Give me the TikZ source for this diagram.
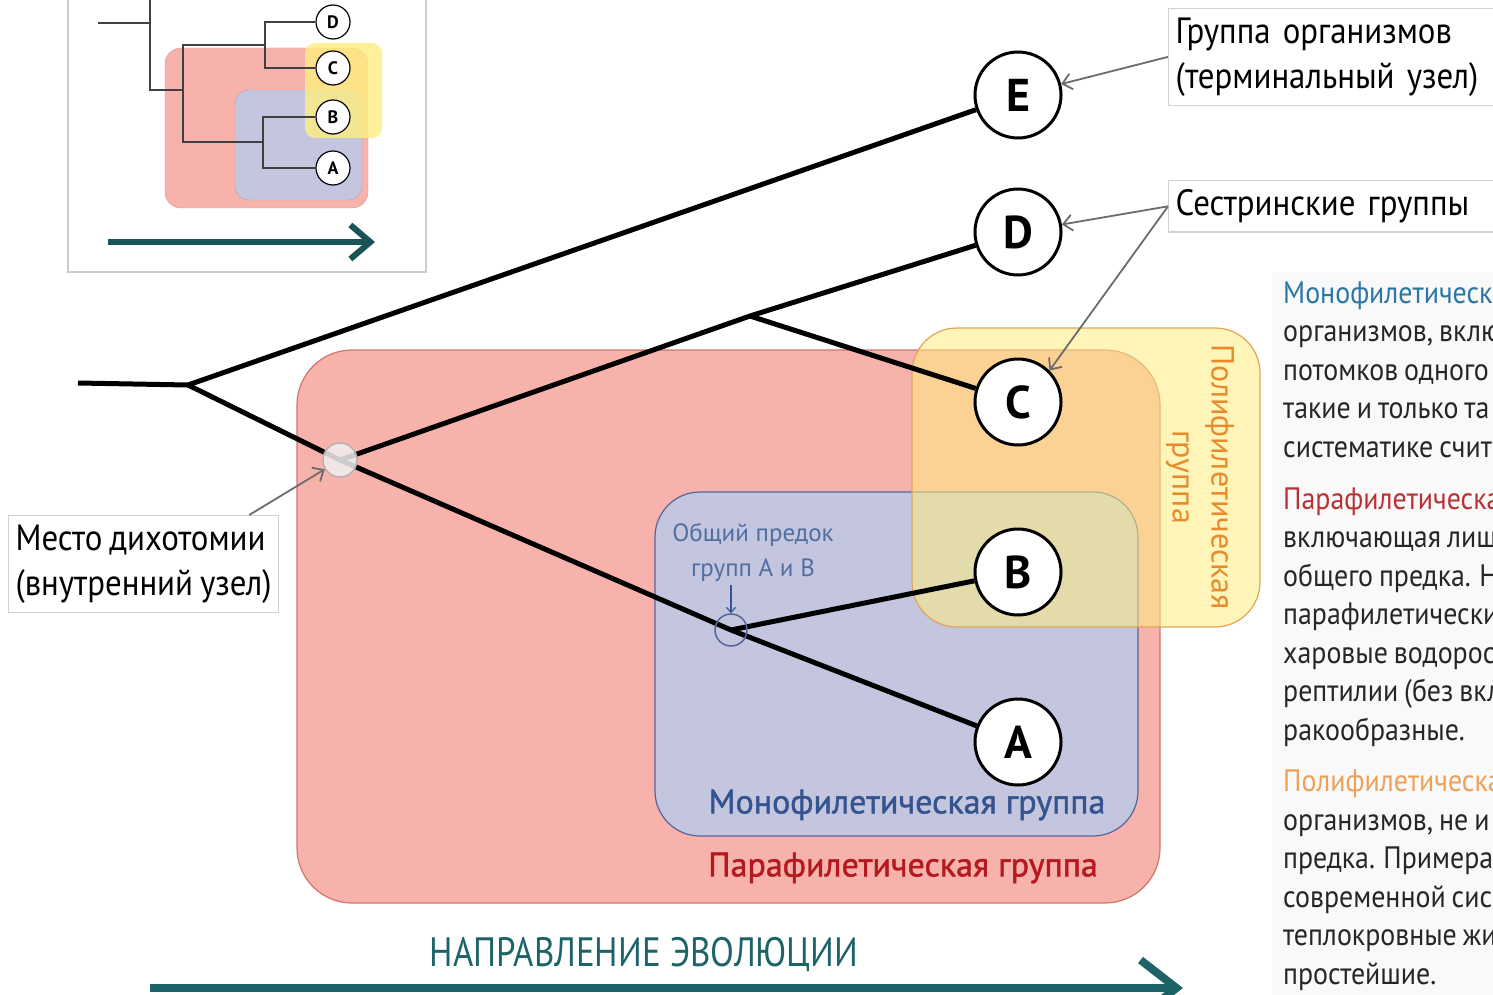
\documentclass[tikz,border=0pt]{standalone}
\usepackage{fontspec}
\setmainfont{PT Sans}
\newfontfamily\narrowfont{PT Sans}[FakeStretch=0.9, WordSpace=0.8]
\newfontfamily\condfont{PT Sans}[FakeStretch=0.85]
\newfontfamily\semifont{PT Sans}[FakeBold=1.3]
\usetikzlibrary{arrows.meta}

\definecolor{paraFill}{HTML}{F7B2AB}
\definecolor{paraLine}{HTML}{D0756C}
\definecolor{monoFill}{HTML}{C3C6DE}
\definecolor{monoLine}{HTML}{56669C}
\definecolor{polyFill}{HTML}{FFEE80}
\definecolor{polyLine}{HTML}{E2A45A}
\definecolor{evoTeal}{HTML}{1D6468}
\definecolor{monoText}{HTML}{34548F}
\definecolor{paraText}{HTML}{B3191E}
\definecolor{polyText}{HTML}{E8892C}

\tikzset{
  leaf/.style={circle, draw, line width=3pt, fill=white, minimum size=86pt, inner sep=0pt, font=\bfseries\fontsize{46}{46}\selectfont},
  branch/.style={line width=5pt},
  callout/.style={draw=gray!35, line width=1.2pt, fill=white, align=left, inner xsep=7pt, inner ysep=9pt, font=\narrowfont\fontsize{36.5}{45}\selectfont},
  pointer/.style={draw=gray!85!black, line width=1.8pt, -{Straight Barb[length=9pt,width=16pt]}},
  ileaf/.style={circle, draw, line width=1.2pt, fill=white, minimum size=34pt, inner sep=0pt, font=\bfseries\fontsize{18}{18}\selectfont},
  ibranch/.style={line width=1.4pt, draw=black!75},
  desc/.style={anchor=base west, align=left, text=black!85, inner sep=0pt, font=\narrowfont\fontsize{31}{38.5}\selectfont},
  grouplabel/.style={font=\semifont\fontsize{34}{34}\selectfont},
}

\begin{document}
\begin{tikzpicture}[x=1pt, y=-1pt]
  \useasboundingbox (0,0) rectangle (1493,995);
  \clip (0,0) rectangle (1493,995);
  \fill[white] (0,0) rectangle (1493,995);
  \fill[gray!5] (1272,272) rectangle (1493,995);

  % small key tree
  \draw[gray!40, line width=1.5pt, fill=white] (68,-20) rectangle (426,272);
  \filldraw[fill=paraFill, draw=paraFill!85!black, rounded corners=16pt] (165,48) rectangle (368,208);
  \filldraw[fill=monoFill, draw=monoFill!85!black, rounded corners=14pt] (235,90) rectangle (362,200);
  \fill[polyFill, opacity=0.8, rounded corners=10pt] (305,43) rectangle (382,138);
  \node[ileaf] (iE) at (333,-26) {E};
  \node[ileaf] (iD) at (333,22) {D};
  \node[ileaf] (iC) at (333,68) {C};
  \node[ileaf] (iB) at (333,117) {B};
  \node[ileaf] (iA) at (333,168) {A};
  \draw[ibranch] (98,23) -- (150,23);
  \draw[ibranch] (iE) -| (150,90) -- (183,90);
  \draw[ibranch] (iD.west) -| (265,68) -- (iC.west);
  \draw[ibranch] (iB.west) -| (263,168) -- (iA.west);
  \draw[ibranch] (265,45) -| (183,142) -- (263,142);
  \draw[evoTeal!85!black, line width=6pt, -{Straight Barb[length=20pt,width=34pt]}] (108,242) -- (375,242);

  % groups
  \filldraw[fill=paraFill, draw=paraLine, line width=1.2pt, rounded corners=55pt] (297,350) rectangle (1160,903);
  \filldraw[fill=monoFill, draw=monoLine, line width=1.2pt, rounded corners=45pt] (655,492) rectangle (1138,836);
  \filldraw[fill=polyFill, fill opacity=0.55, draw=polyLine, line width=1.2pt, rounded corners=45pt] (912,328) rectangle (1260,627);

  % tree
  \node[leaf] (E) at (1018,95) {E};
  \node[leaf] (D) at (1018,232) {D};
  \node[leaf] (C) at (1018,402) {C};
  \node[leaf] (B) at (1018,572) {B};
  \node[leaf] (A) at (1018,742) {A};
  \coordinate (start) at (78,383);
  \coordinate (root) at (188,385);
  \coordinate (dichpt) at (340,460);
  \coordinate (ancpt) at (731,630);
  \coordinate (cd) at (750,316);
  \draw[branch] (start) -- (root) -- (E);
  \draw[branch] (root) -- (dichpt) -- (ancpt) -- (A);
  \draw[branch] (dichpt) -- (cd) -- (D);
  \draw[branch] (cd) -- (C);
  \draw[branch] (ancpt) -- (B);
  \node[circle, draw=gray!60, fill=gray!12, fill opacity=0.85, line width=1.5pt, minimum size=34pt, inner sep=0pt] (dich) at (dichpt) {};
  \node[circle, draw=monoLine, line width=1.5pt, minimum size=32pt, inner sep=0pt] (anc) at (ancpt) {};

  % labels
  \node[grouplabel, text=monoText] (lblMono) at (907,805) {Монофилетическая группа};
  \node[grouplabel, text=paraText] (lblPara) at (903,868) {Парафилетическая группа};
  \node[text=polyText, rotate=-90, align=center, font=\fontsize{32}{39}\selectfont] (lblPoly) at (1200,477) {Полифилетическая\\группа};
  \node[text=monoText!85, align=center, font=\fontsize{25}{35}\selectfont] (lblAnc) at (753,552) {Общий предок\\групп А и В};
  \draw[monoText, line width=1.2pt, -{Straight Barb[length=5pt,width=9pt]}] (anc.north |- lblAnc.south) -- (anc);

  \node[callout, anchor=north west, text width=330pt] (lblTerm) at (1168,8) {Группа организмов\\(терминальный узел)};
  \node[callout, anchor=north west, text width=330pt] (lblSister) at (1168,180) {Сестринские группы};
  \node[callout, anchor=north west] (lblDich) at (8,515) {Место дихотомии\\(внутренний узел)};
  \draw[pointer] (lblTerm.west) -- (E);
  \draw[pointer] (lblSister.west) -- (D);
  \draw[pointer] (lblSister.west) -- (C.north east);
  \draw[pointer] ([xshift=-30pt]lblDich.north east) -- (dich);

  % direction
  \node[text=evoTeal, font=\condfont\fontsize{41}{41}\selectfont] (lblDir) at (644,955) {НАПРАВЛЕНИЕ ЭВОЛЮЦИИ};
  \coordinate (evoStart) at (150,988);
  \coordinate (evoEnd) at (1183,988);
  \draw[evoTeal, line width=8pt, -{Straight Barb[length=36pt,width=56pt]}] (evoStart) -- (evoEnd);

  % text column
  \node[desc] (descMono) at (1283,457) {\textcolor{monoText!80!cyan}{Монофилетическа}\\организмов, вклю\\потомков одного\\такие и только та\\систематике счит};
  \node[desc] (descPara) at (1283,740) {\textcolor{paraText!90}{Парафилетическа}\\включающая лиш\\общего предка. Н\\парафилетически\\харовые водорос\\рептилии (без вкл\\ракообразные.};
  \node[desc] (descPoly) at (1283,984) {\textcolor{polyText!80}{Полифилетическа}\\организмов, не и\\предка. Примера\\современной сис\\теплокровные жи\\простейшие.};
\end{tikzpicture}
\end{document}
